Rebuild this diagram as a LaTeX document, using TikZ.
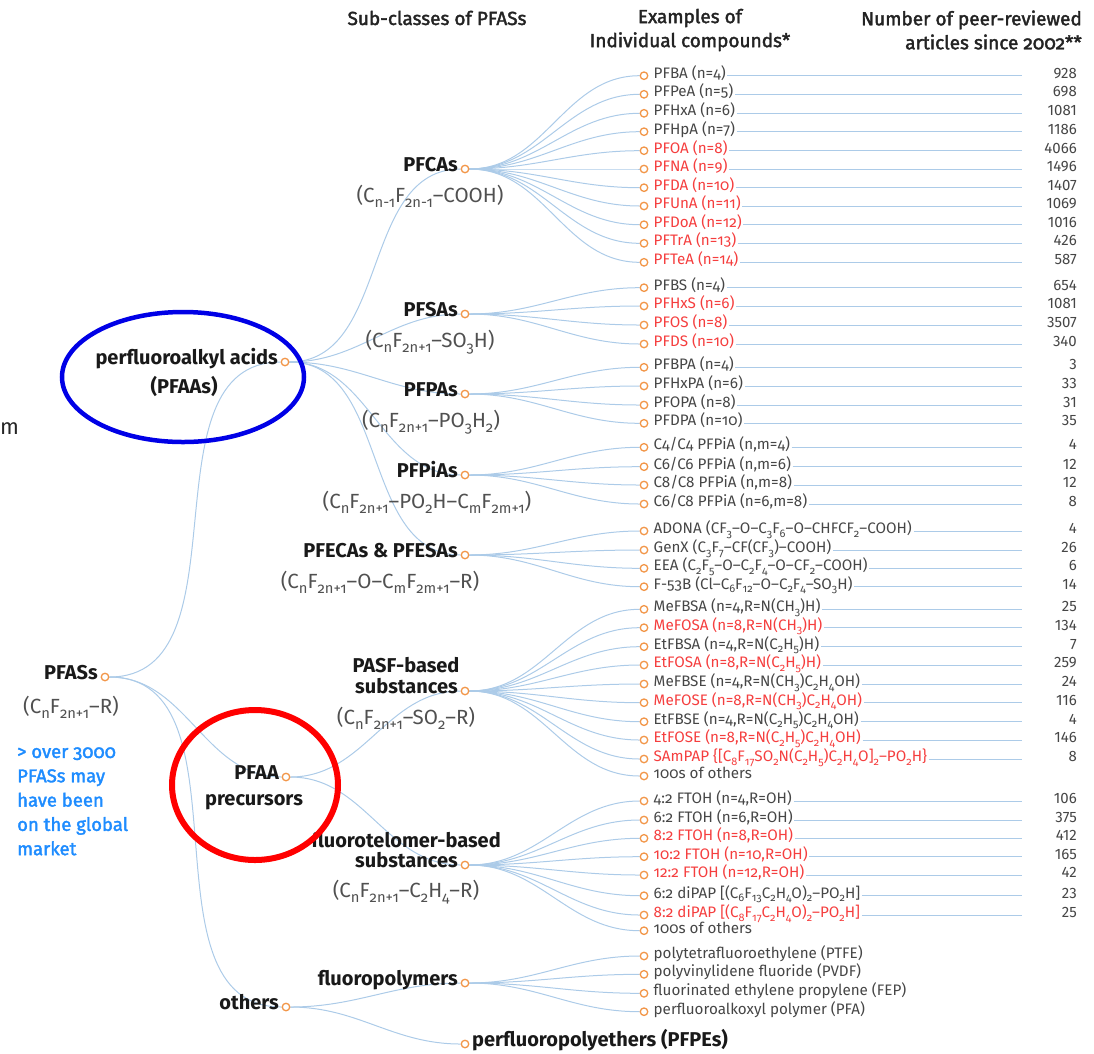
\documentclass[tikz,border=0pt]{standalone}
\usepackage{fontspec}
\usepackage{graphicx}
\setmainfont{Fira Sans}[Numbers=OldStyle]
\newfontfamily\liningfont{Fira Sans}[Numbers=Lining]
\newfontfamily\headfont{Fira Sans}[Numbers=OldStyle,FakeBold=2]
\usetikzlibrary{positioning}
\usetikzlibrary{backgrounds}
\newcommand{\sbs}[1]{\raisebox{-0.45ex}{\scalebox{0.72}{#1}}}
\definecolor{linkblue}{RGB}{172,203,232}
\definecolor{dotorange}{RGB}{242,150,72}
\definecolor{cg}{RGB}{70,70,70}
\definecolor{cr}{RGB}{245,62,62}
\definecolor{formgray}{RGB}{80,80,80}
\definecolor{noteblue}{RGB}{30,140,255}
\definecolor{headgray}{RGB}{35,35,35}

\begin{document}
\begin{tikzpicture}[x=1pt,y=1pt,yscale=-1,
  dot/.style={circle,draw=dotorange,fill=white,line width=1.3pt,inner sep=0pt,minimum size=7.5pt},
  link/.style={draw=linkblue,line width=1pt},
  subcls/.style={font=\fontsize{20}{23}\selectfont\bfseries,text=black!90,inner sep=1pt},
  formula/.style={font=\fontsize{20.5}{23}\selectfont,text=formgray,inner sep=0pt},
  cmpd/.style={font=\fontsize{15.2}{16}\selectfont,inner sep=1.5pt,anchor=mid west},
  count/.style={font=\liningfont\fontsize{15}{16}\selectfont,text=cg,inner sep=0pt,anchor=mid east},
  head/.style={font=\headfont\fontsize{19}{24}\selectfont,text=headgray,align=center,inner sep=0pt},
  note/.style={font=\headfont\fontsize{18.5}{24.3}\selectfont,text=noteblue,align=left,inner sep=0pt}]
\useasboundingbox (0,0) rectangle (1094,1053);

% Column headers
\node[head] (hsub) at (437,18) {Sub-classes of PFASs};
\node[head] (hex) at (690,30) {Examples of\\Individual compounds*};
\node[head,align=right,anchor=east] (hnum) at (1082,30) {Number of peer-reviewed\\articles since 2002**};

% Root
\node[dot] (pfas) at (105,677) {};
\node[subcls,anchor=mid east] (pfas-t) at (99,677) {PFASs};
\node[formula] (pfas-f) at (71,707) {(C\sbs{n}F\sbs{2n+1}–R)};
\node[note,anchor=north west] (note) at (17,745) {\vphantom{P}> over 3000\\PFASs may\\have been\\on the global\\market};
\node[font=\liningfont\fontsize{22}{22}\selectfont,text=black!85,anchor=mid west,inner sep=0pt] (mark) at (0,432) {m};

% Level 1
\node[dot] (pfaa) at (285,362) {};
\node[subcls,anchor=mid east] (pfaa-t) at (279,362) {perfluoroalkyl acids};
\node[subcls] (pfaa-t2) at (184,386) {(PFAAs)};
\node[dot] (prec) at (286,777) {};
\node[subcls,anchor=mid east] (prec-t) at (280,777) {PFAA};
\node[subcls] (prec-t2) at (254,802) {precursors};
\node[dot] (oth) at (286,1007) {};
\node[subcls,anchor=mid east] (oth-t) at (280,1007) {others};

% Sub-classes
\node[dot] (pfcas) at (465,169) {};
\node[subcls,anchor=mid east] (pfcas-t) at (459,169) {PFCAs};
\node[formula] (pfcas-f) at (430,196) {(C\sbs{n-1}F\sbs{2n-1}–COOH)};
\node[dot] (pfsas) at (465,314) {};
\node[subcls,anchor=mid east] (pfsas-t) at (459,314) {PFSAs};
\node[formula] (pfsas-f) at (430,342) {(C\sbs{n}F\sbs{2n+1}–SO\sbs{3}H)};
\node[dot] (pfpas) at (465,394) {};
\node[subcls,anchor=mid east] (pfpas-t) at (459,394) {PFPAs};
\node[formula] (pfpas-f) at (431,422) {(C\sbs{n}F\sbs{2n+1}–PO\sbs{3}H\sbs{2})};
\node[dot] (pfpias) at (465,475) {};
\node[subcls,anchor=mid east] (pfpias-t) at (459,475) {PFPiAs};
\node[formula] (pfpias-f) at (427,502) {(C\sbs{n}F\sbs{2n+1}–PO\sbs{2}H–C\sbs{m}F\sbs{2m+1})};
\node[dot] (pfecas) at (465,555) {};
\node[subcls,anchor=mid east] (pfecas-t) at (459,555) {PFECAs \& PFESAs};
\node[formula] (pfecas-f) at (380,582) {(C\sbs{n}F\sbs{2n+1}–O–C\sbs{m}F\sbs{2m+1}–R)};
\node[dot] (pasf) at (465,691) {};
\node[subcls] (pasf-t) at (406,665) {PASF-based};
\node[subcls,anchor=mid east] (pasf-t2) at (459,691) {substances};
\node[formula] (pasf-f) at (406,718) {(C\sbs{n}F\sbs{2n+1}–SO\sbs{2}–R)};
\node[dot] (ftel) at (465,865) {};
\node[subcls] (ftel-t) at (406,840) {fluorotelomer-based};
\node[subcls,anchor=mid east] (ftel-t2) at (459,865) {substances};
\node[formula] (ftel-f) at (406,892) {(C\sbs{n}F\sbs{2n+1}–C\sbs{2}H\sbs{4}–R)};
\node[dot] (fpoly) at (465,983) {};
\node[subcls,anchor=mid east] (fpoly-t) at (459,983) {fluoropolymers};
\node[dot] (pfpe) at (465,1044) {};
\node[subcls,anchor=mid west] (pfpe-t) at (471,1044) {perfluoropolyethers (PFPEs)};

% Tree links
\begin{scope}[on background layer]
\foreach \a/\b in {pfas/pfaa,pfas/prec,pfas/oth,pfaa/pfcas,pfaa/pfsas,pfaa/pfpas,pfaa/pfpias,pfaa/pfecas,prec/pasf,prec/ftel,oth/fpoly,oth/pfpe}
  \draw[link] (\a) to[out=0,in=180] (\b);
\end{scope}

% Individual compounds with counts
\foreach \i/\y/\from/\lbl/\nart/\col in {
  1/75.7/pfcas/{PFBA (n=4)}/928/cg, 2/94.3/pfcas/{PFPeA (n=5)}/698/cg,
  3/113.3/pfcas/{PFHxA (n=6)}/1081/cg, 4/131.7/pfcas/{PFHpA (n=7)}/1186/cg,
  5/150.7/pfcas/{PFOA (n=8)}/4066/cr, 6/169/pfcas/{PFNA (n=9)}/1496/cr,
  7/187.7/pfcas/{PFDA (n=10)}/1407/cr, 8/206/pfcas/{PFUnA (n=11)}/1069/cr,
  9/224.7/pfcas/{PFDoA (n=12)}/1016/cr, 10/243.3/pfcas/{PFTrA (n=13)}/426/cr,
  11/262.3/pfcas/{PFTeA (n=14)}/587/cr,
  12/287.7/pfsas/{PFBS (n=4)}/654/cg, 13/306/pfsas/{PFHxS (n=6)}/1081/cr,
  14/325/pfsas/{PFOS (n=8)}/3507/cr, 15/344/pfsas/{PFDS (n=10)}/340/cr,
  16/367.3/pfpas/{PFBPA (n=4)}/3/cg, 17/386/pfpas/{PFHxPA (n=6)}/33/cg,
  18/405/pfpas/{PFOPA (n=8)}/31/cg, 19/423.3/pfpas/{PFDPA (n=10)}/35/cg,
  20/447.3/pfpias/{C4/C4 PFPiA (n,m=4)}/4/cg, 21/466.7/pfpias/{C6/C6 PFPiA (n,m=6)}/12/cg,
  22/485/pfpias/{C8/C8 PFPiA (n,m=8)}/12/cg, 23/504/pfpias/{C6/C8 PFPiA (n=6,m=8)}/8/cg,
  24/531/pfecas/{ADONA (CF\sbs{3}–O–C\sbs{3}F\sbs{6}–O–CHFCF\sbs{2}–COOH)}/4/cg,
  25/550/pfecas/{GenX (C\sbs{3}F\sbs{7}–CF(CF\sbs{3})–COOH)}/26/cg,
  26/568.3/pfecas/{EEA (C\sbs{2}F\sbs{5}–O–C\sbs{2}F\sbs{4}–O–CF\sbs{2}–COOH)}/6/cg,
  27/586.7/pfecas/{F-53B (Cl–C\sbs{6}F\sbs{12}–O–C\sbs{2}F\sbs{4}–SO\sbs{3}H)}/14/cg,
  28/609.3/pasf/{MeFBSA (n=4,R=N(CH\sbs{3})H)}/25/cg,
  29/627.7/pasf/{MeFOSA (n=8,R=N(CH\sbs{3})H)}/134/cr,
  30/646.7/pasf/{EtFBSA (n=4,R=N(C\sbs{2}H\sbs{5})H)}/7/cg,
  31/665/pasf/{EtFOSA (n=8,R=N(C\sbs{2}H\sbs{5})H)}/259/cr,
  32/684/pasf/{MeFBSE (n=4,R=N(CH\sbs{3})C\sbs{2}H\sbs{4}OH)}/24/cg,
  33/702.7/pasf/{MeFOSE (n=8,R=N(CH\sbs{3})C\sbs{2}H\sbs{4}OH)}/116/cr,
  34/721.7/pasf/{EtFBSE (n=4,R=N(C\sbs{2}H\sbs{5})C\sbs{2}H\sbs{4}OH)}/4/cg,
  35/740/pasf/{EtFOSE (n=8,R=N(C\sbs{2}H\sbs{5})C\sbs{2}H\sbs{4}OH)}/146/cr,
  36/759/pasf/{SAmPAP \{[C\sbs{8}F\sbs{17}SO\sbs{2}N(C\sbs{2}H\sbs{5})C\sbs{2}H\sbs{4}O]\sbs{2}–PO\sbs{2}H\}}/8/cr,
  38/801/ftel/{4:2 FTOH (n=4,R=OH)}/106/cg, 39/820/ftel/{6:2 FTOH (n=6,R=OH)}/375/cg,
  40/838.3/ftel/{8:2 FTOH (n=8,R=OH)}/412/cr, 41/856.7/ftel/{10:2 FTOH (n=10,R=OH)}/165/cr,
  42/875/ftel/{12:2 FTOH (n=12,R=OH)}/42/cr,
  43/895.7/ftel/{6:2 diPAP [(C\sbs{6}F\sbs{13}C\sbs{2}H\sbs{4}O)\sbs{2}–PO\sbs{2}H]}/23/cg,
  44/915/ftel/{8:2 diPAP [(C\sbs{8}F\sbs{17}C\sbs{2}H\sbs{4}O)\sbs{2}–PO\sbs{2}H]}/25/cr}{
  \node[dot] (c\i) at (644,\y) {};
  \node[cmpd,text=\col] (t\i) at (652,\y) {\lbl};
  \node[count] (n\i) at (1077,\y) {\nart};
  \coordinate (e\i) at (1022,\y);
  \begin{scope}[on background layer]
    \draw[link] (\from) to[out=0,in=180] (c\i);
    \draw[link] (t\i.mid east) -- (e\i);
  \end{scope}
}

% Individual compounds without counts
\foreach \i/\y/\from/\lbl in {37/776/pasf/{100s of others}, 45/930.7/ftel/{100s of others},
  46/956/fpoly/{polytetrafluoroethylene (PTFE)}, 47/974.3/fpoly/{polyvinylidene fluoride (PVDF)},
  48/993.3/fpoly/{fluorinated ethylene propylene (FEP)}, 49/1011.7/fpoly/{perfluoroalkoxyl polymer (PFA)}}{
  \node[dot] (c\i) at (644,\y) {};
  \node[cmpd,text=cg] (t\i) at (652,\y) {\lbl};
  \begin{scope}[on background layer]
    \draw[link] (\from) to[out=0,in=180] (c\i);
  \end{scope}
}

% Highlight marks
\draw[line width=4.5pt,draw={rgb,255:red,0;green,0;blue,230}] (183,377) ellipse [x radius=121,y radius=65];
\draw[line width=6pt,draw={rgb,255:red,255;green,0;blue,0}] (255,785) ellipse [x radius=83,y radius=75];

\end{tikzpicture}
\end{document}
